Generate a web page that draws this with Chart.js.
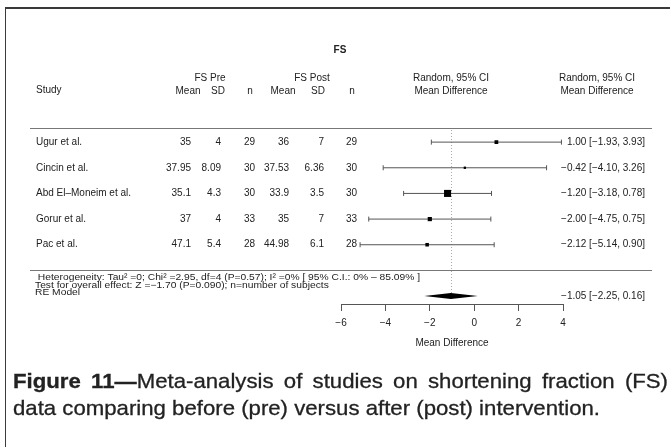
<!DOCTYPE html>
<html>
<head>
<meta charset="utf-8">
<script src="https://cdn.jsdelivr.net/npm/chart.js@4.4.1/dist/chart.umd.min.js"></script>
<style>
  html, body { margin: 0; padding: 0; background: #fff; }
  #frame { position: relative; width: 670px; height: 447px; overflow: hidden; }
  #box { position: absolute; left: 5px; top: 7px; width: 700px; height: 500px;
         border-top: 2px solid #3a3a3a; border-left: 1px solid #3a3a3a; }
  #forest { position: absolute; left: 0; top: 0; }
  #caption { position: absolute; left: 13px; top: 367px; white-space: nowrap;
             font-family: 'Liberation Sans Narrow', 'Arial Narrow', 'Liberation Sans', Arial, sans-serif;
             font-size: 21px; line-height: 27px; color: #222; transform-origin: 0 0;
             -webkit-text-stroke: 0.3px #222; }
</style>
</head>
<body>
<div id="frame">
  <div id="box"></div>
  <canvas id="forest" width="670" height="447"></canvas>
  <div id="caption"><span id="capLine1"><b>Figure 11—</b>Meta-analysis of studies on shortening fraction (FS)</span><br><span id="capLine2">data comparing before (pre) versus after (post) intervention.</span></div>
</div>
<script>
// study table
const studies = ['Ugur et al.', 'Cincin et al.', 'Abd El\u2013Moneim et al.', 'Gorur et al.', 'Pac et al.'];
const preMean = [35, 37.95, 35.1, 37, 47.1];
const preSD = [4, 8.09, 4.3, 4, 5.4];
const preN = [29, 30, 30, 33, 28];
const postMean = [36, 37.53, 33.9, 35, 44.98];
const postSD = [7, 6.36, 3.5, 7, 6.1];
const postN = [29, 30, 30, 33, 28];

// mean differences with 95% CI
const meanDiff = [1.00, -0.42, -1.20, -2.00, -2.12];
const ciLower = [-1.93, -4.10, -3.18, -4.75, -5.14];
const ciUpper = [3.93, 3.26, 0.78, 0.75, 0.90];

// random effects pooled estimate
const reEstimate = -1.05;
const reLower = -2.25;
const reUpper = 0.16;

const xTicks = [-6, -4, -2, 0, 2, 4];

const hetText = ' Heterogeneity: Tau\u00b2 =0; Chi\u00b2 =2.95, df=4 (P=0.57); I\u00b2 =0% [ 95% C.I.: 0% \u2013 85.09% ]';
const testText = 'Test for overall effect: Z =\u22121.70 (P=0.090); n=number of subjects';

const summaryRow = 6;
const separatorRow = 5;
const FONT = "'Liberation Sans', Arial, Helvetica, sans-serif";
const TEXT = '#222';

const minus = (v) => (v < 0 ? '\u2212' : '') + Math.abs(v).toFixed(2);
const ciLabel = (m, lo, hi) => `${minus(m)} [${minus(lo)}, ${minus(hi)}]`;

// box size from inverse standard error, scaled to 0.5 - 1.5 like metafor
const precision = ciLower.map((lo, i) => 3.92 / (ciUpper[i] - lo));
const pMin = Math.min(...precision), pMax = Math.max(...precision);
const boxRadius = precision.map(p => (4.7 * ((p - pMin) / (pMax - pMin) + 0.5)) / Math.SQRT2);

const whiskers = studies.map((s, i) => ({
    data: [{ x: ciLower[i], y: i }, { x: ciUpper[i], y: i }],
    showLine: true,
    borderColor: '#555',
    borderWidth: 1,
    pointStyle: 'line',
    rotation: 90,
    pointRadius: 2.5,
    pointBorderColor: '#555',
    pointBorderWidth: 1,
    order: 2
}));

const boxes = {
    data: meanDiff.map((m, i) => ({ x: m, y: i })),
    pointStyle: 'rect',
    pointRadius: boxRadius,
    backgroundColor: '#000',
    borderColor: '#000',
    borderWidth: 0,
    order: 1
};

// table columns (centre of headers, right edge of values)
const columns = [
    { head: 'Mean', cx: 188, rx: 191, vals: preMean },
    { head: 'SD', cx: 218, rx: 221, vals: preSD },
    { head: 'n', cx: 250, rx: 255, vals: preN },
    { head: 'Mean', cx: 283, rx: 289, vals: postMean },
    { head: 'SD', cx: 318, rx: 324, vals: postSD },
    { head: 'n', cx: 352, rx: 357, vals: postN }
];

const forestPlugin = {
    id: 'forestTable',
    beforeDatasetsDraw(chart) {
        const { ctx, chartArea, scales: { x } } = chart;
        // dotted line at pooled estimate
        const px = Math.round(x.getPixelForValue(reEstimate)) + 0.5;
        ctx.save();
        ctx.strokeStyle = '#aaa';
        ctx.lineWidth = 1;
        ctx.setLineDash([1, 2]);
        ctx.beginPath();
        ctx.moveTo(px, chartArea.top + 2);
        ctx.lineTo(px, chartArea.bottom - 3);
        ctx.stroke();
        ctx.restore();
    },
    afterDatasetsDraw(chart) {
        const { ctx, scales: { x, y } } = chart;
        // pooled estimate diamond
        const yc = y.getPixelForValue(summaryRow);
        ctx.save();
        ctx.fillStyle = '#000';
        ctx.beginPath();
        ctx.moveTo(x.getPixelForValue(reLower), yc);
        ctx.lineTo(x.getPixelForValue(reEstimate), yc - 3);
        ctx.lineTo(x.getPixelForValue(reUpper), yc);
        ctx.lineTo(x.getPixelForValue(reEstimate), yc + 3);
        ctx.closePath();
        ctx.fill();
        ctx.restore();
    },
    afterDraw(chart) {
        const { ctx, chartArea, scales: { y } } = chart;
        ctx.save();
        ctx.fillStyle = TEXT;
        ctx.textBaseline = 'middle';

        // titles
        ctx.font = `bold 10px ${FONT}`;
        ctx.textAlign = 'center';
        ctx.fillText('FS', 340, 50);
        ctx.font = `10px ${FONT}`;
        ctx.fillText('FS Pre', 210, 78);
        ctx.fillText('FS Post', 312, 78);
        ctx.fillText('Random, 95% CI', 451, 78);
        ctx.fillText('Mean Difference', 451, 91);
        ctx.fillText('Random, 95% CI', 597, 78);
        ctx.fillText('Mean Difference', 597, 91);
        columns.forEach(c => ctx.fillText(c.head, c.cx, 91));
        ctx.textAlign = 'left';
        ctx.fillText('Study', 36, 90);

        // rules
        ctx.strokeStyle = '#777';
        ctx.lineWidth = 1;
        [chartArea.top, y.getPixelForValue(separatorRow)].forEach(py => {
            const yy = Math.round(py) + 0.5;
            ctx.beginPath();
            ctx.moveTo(30, yy);
            ctx.lineTo(652, yy);
            ctx.stroke();
        });

        // study rows
        studies.forEach((s, i) => {
            const py = y.getPixelForValue(i);
            ctx.textAlign = 'left';
            ctx.fillText(s, 36, py);
            ctx.textAlign = 'right';
            columns.forEach(c => ctx.fillText(String(c.vals[i]), c.rx, py));
            ctx.fillText(ciLabel(meanDiff[i], ciLower[i], ciUpper[i]), 645, py);
        });

        // summary
        const sy = y.getPixelForValue(summaryRow);
        ctx.textAlign = 'right';
        ctx.fillText(ciLabel(reEstimate, reLower, reUpper), 645, sy);

        // footnote lines are squashed vertically and a little wide
        ctx.textAlign = 'left';
        ctx.font = `10px ${FONT}`;
        const sx = 385 / ctx.measureText(hetText).width;
        const lines = [[hetText, sy - 18.5], [testText, sy - 11], ['RE Model', sy - 3.5]];
        lines.forEach(([t, ty]) => {
            ctx.save();
            ctx.translate(35, ty);
            ctx.scale(sx, 0.9);
            ctx.fillText(t, 0, 0);
            ctx.restore();
        });
        ctx.restore();
    }
};

new Chart(document.getElementById('forest').getContext('2d'), {
    type: 'scatter',
    data: { datasets: [boxes, ...whiskers] },
    options: {
        responsive: false,
        animation: false,
        devicePixelRatio: 1,
        events: [],
        layout: { padding: { left: 341, right: 107, top: 128, bottom: 98 } },
        plugins: {
            legend: { display: false },
            tooltip: { enabled: false }
        },
        scales: {
            x: {
                type: 'linear',
                min: -6,
                max: 4,
                afterBuildTicks: (scale) => { scale.ticks = xTicks.map(v => ({ value: v })); },
                afterFit: (scale) => { scale.height = 45; },
                ticks: {
                    color: TEXT,
                    padding: 6,
                    font: { family: FONT, size: 10 },
                    callback: (v) => (v < 0 ? '\u2212' + Math.abs(v) : String(v))
                },
                grid: { drawOnChartArea: false, tickLength: 7, color: '#555' },
                border: { color: '#555', width: 1 },
                title: {
                    display: true,
                    text: 'Mean Difference',
                    color: TEXT,
                    font: { family: FONT, size: 10 },
                    padding: { top: 4, bottom: 0 }
                }
            },
            y: {
                type: 'linear',
                reverse: true,
                min: -0.55,
                max: 6.31,
                display: false
            }
        }
    },
    plugins: [forestPlugin]
});

// condense the caption and justify its first line across the frame
const line1 = document.getElementById('capLine1');
const line2 = document.getElementById('capLine2');
const squeeze = 587 / line2.getBoundingClientRect().width;
const gaps = (line1.textContent.match(/ /g) || []).length;
const extra = (655 / squeeze - line1.getBoundingClientRect().width) / gaps;
line1.style.wordSpacing = `${extra}px`;
document.getElementById('caption').style.transform = `scaleX(${squeeze})`;
</script>
</body>
</html>
